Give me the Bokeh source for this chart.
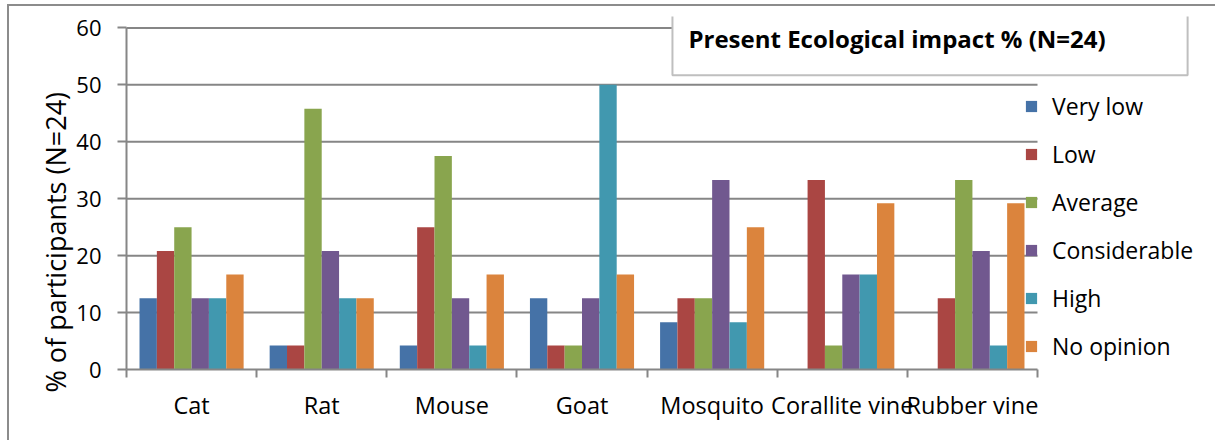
from bokeh.plotting import figure
from bokeh.models import (Range1d, LinearAxis, FixedTicker, Title,
                          Legend, LegendItem, Label, ColumnDataSource)
from bokeh.transform import dodge
from bokeh.embed import file_html
from bokeh.resources import INLINE

categories = ["Cat", "Rat", "Mouse", "Goat", "Mosquito", "Corallite vine", "Rubber vine"]
series = ["Very low", "Low", "Average", "Considerable", "High", "No opinion"]
very_low = [12.5, 4.2, 4.2, 12.5, 8.3, 0.0, 0.0]
low = [20.8, 4.2, 25.0, 4.2, 12.5, 33.3, 12.5]
average = [25.0, 45.8, 37.5, 4.2, 12.5, 4.2, 33.3]
considerable = [12.5, 20.8, 12.5, 12.5, 33.3, 16.7, 20.8]
high = [12.5, 12.5, 4.2, 50.0, 8.3, 16.7, 4.2]
no_opinion = [16.7, 12.5, 16.7, 16.7, 25.0, 29.2, 29.2]
colors = ["#4572A7", "#AA4643", "#89A54E", "#71588F", "#4198AF", "#DB843D"]
y_ticks = [0, 10, 20, 30, 40, 50, 60]
title_text = "Present Ecological impact % (N=24)"
y_label = "% of participants (N=24)"

FONT = "Open Sans"
GRAY = "#868686"

n = len(categories)
centers = [i + 0.5 for i in range(n)]
bounds = list(range(n + 1))
keys = ["very_low", "low", "average", "considerable", "high", "no_opinion"]
source = ColumnDataSource(dict(x=centers, very_low=very_low, low=low, average=average,
                               considerable=considerable, high=high, no_opinion=no_opinion))

# layout: canvas 1208 x 436; category area 911 px wide, frame extends right for legend/title
W, H = 1208, 436
ML, MR, MT, MB = 117, 12, 10, 73
frame_w = W - ML - MR
x_end = n * frame_w / 911.0
y_top = 62

p = figure(x_range=Range1d(0, x_end), y_range=Range1d(0, y_top),
           width=W, height=H, output_backend="svg", toolbar_location=None,
           x_axis_location=None, min_border_left=ML, min_border_right=MR,
           min_border_top=MT, min_border_bottom=MB)
p.outline_line_color = None
p.xgrid.visible = False
p.ygrid.visible = False

# horizontal gridlines limited to the category area
p.segment(x0=0, x1=n, y0=y_ticks[1:], y1=y_ticks[1:], line_color=GRAY, line_width=2)

ya = p.yaxis[0]
ya.ticker = FixedTicker(ticks=y_ticks)
ya.bounds = (y_ticks[0], y_ticks[-1])
ya.axis_line_color = GRAY
ya.axis_line_width = 2
ya.major_tick_line_color = GRAY
ya.major_tick_line_width = 2
ya.major_tick_out = 9
ya.major_tick_in = 0
ya.minor_tick_line_color = None
ya.major_label_text_font = FONT
ya.major_label_text_font_size = "22px"
ya.major_label_text_color = "black"
ya.major_label_standoff = 16

ylab = Title(text=y_label, align="left", offset=-23, standoff=0,
             text_font=FONT, text_font_size="27px", text_font_style="normal",
             text_color="black")
p.add_layout(ylab, "left")

xa = LinearAxis(ticker=FixedTicker(ticks=centers, minor_ticks=bounds),
                bounds=(0, n),
                major_label_overrides={c: name for c, name in zip(centers, categories)},
                axis_line_color=GRAY, axis_line_width=2,
                major_tick_line_color=None, major_tick_out=0, major_tick_in=0,
                minor_tick_line_color=GRAY, minor_tick_line_width=2,
                minor_tick_out=8, minor_tick_in=0,
                major_label_text_font=FONT, major_label_text_font_size="23.5px",
                major_label_text_color="black", major_label_standoff=11)
p.add_layout(xa, "below")

bw = 0.8 / 6
items = []
for i, (k, name, c) in enumerate(zip(keys, series, colors)):
    r = p.vbar(x=dodge("x", (i - 2.5) * bw), top=k, width=bw,
               source=source, fill_color=c, line_color=None)
    items.append(LegendItem(label=name, renderers=[r]))

legend = Legend(items=items, location=(898, 7), orientation="vertical",
                border_line_color=None, background_fill_alpha=0, padding=0, margin=0,
                glyph_width=14, glyph_height=14, label_standoff=14, spacing=16,
                label_text_font=FONT, label_text_font_size="23px", label_text_color="black")
p.add_layout(legend, "center")

title = Label(x=4.195, y=58.1, text=title_text, text_font=FONT, text_font_style="bold",
              text_font_size="24px", text_baseline="middle", text_color="black",
              border_line_color="#BFBFBF", border_line_width=2,
              background_fill_color="white",
              padding=dict(left=16, right=82, top=20, bottom=20))
p.add_layout(title)

p.styles = {"border-left": "2px solid #8C8C8C", "border-top": "2px solid #8C8C8C",
            "margin-left": "7px", "margin-top": "4px"}

open("out.html", "w").write(file_html(p, INLINE))
